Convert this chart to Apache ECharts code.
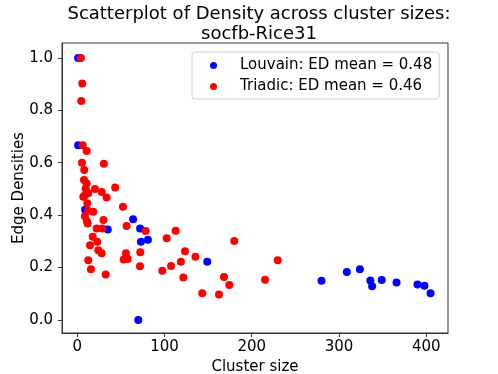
<!DOCTYPE html>
<html>
<head>
<meta charset="utf-8">
<script src="https://cdn.jsdelivr.net/npm/echarts@6/dist/echarts.min.js"></script>
<style>
  html, body { margin: 0; padding: 0; background: #fff; }
  #chart { width: 498px; height: 374px; }
</style>
</head>
<body>
<div id="chart"></div>
<script>
// cluster size / edge density pairs
const louvainSize = [1, 1, 9, 35, 64, 72, 73, 81, 149, 70, 280, 309, 324, 336, 338, 349, 366, 390, 398, 405];
const louvainDensity = [1.0, 0.667, 0.42, 0.345, 0.384, 0.349, 0.298, 0.306, 0.222, 0.0, 0.149, 0.183, 0.193, 0.150, 0.128, 0.152, 0.143, 0.135, 0.130, 0.102];

const triadicSize = [4.2, 5.7, 4.6, 6.2, 10.8, 5.4, 30.5, 8, 7.7, 10.8, 9.6, 20.3, 28, 43.5, 33.6, 8.8, 12.6, 6.9,
  11.5, 52.4, 18.3, 12.6, 8.8, 30, 11.9, 11, 22.2, 28.7, 56.6, 17.7, 22.9, 14.6, 24.1, 28, 55.8, 53.2, 57.8,
  12.6, 15.7, 32.6, 72.3, 71.9, 78.4, 102.5, 112.8, 180, 123.5, 135.5, 118.8, 107.5, 97.5, 121.6, 168.2,
  174.3, 143.3, 162.5, 215.3, 229.8];
const triadicDensity = [1.0, 0.902, 0.836, 0.667, 0.645, 0.6, 0.596, 0.572, 0.534, 0.521, 0.502, 0.50, 0.488, 0.505, 0.467, 0.476, 0.483, 0.470,
  0.445, 0.432, 0.413, 0.417, 0.396, 0.381, 0.368, 0.378, 0.349, 0.349, 0.358, 0.317, 0.298, 0.285, 0.266, 0.254, 0.254, 0.231, 0.232,
  0.228, 0.193, 0.173, 0.258, 0.205, 0.339, 0.312, 0.340, 0.301, 0.262, 0.241, 0.222, 0.206, 0.188, 0.162, 0.164,
  0.133, 0.102, 0.097, 0.153, 0.228];

const xTicks = [0, 100, 200, 300, 400];
const yTicks = [0, 0.2, 0.4, 0.6, 0.8, 1.0];
const seriesNames = ['Louvain: ED mean = 0.48', 'Triadic: ED mean = 0.46'];

const font = 'DejaVu Sans';
const chart = echarts.init(document.getElementById('chart'), null, { renderer: 'canvas' });

function pairs(xs, ys) {
  return xs.map((x, i) => [x, ys[i]]);
}

const option = {
  animation: false,
  title: {
    text: 'Scatterplot of Density across cluster sizes:\nsocfb-Rice31',
    left: 254,
    top: -1,
    textAlign: 'center',
    textStyle: { fontFamily: font, fontSize: 18, fontWeight: 'normal', color: '#000', lineHeight: 20 }
  },
  grid: {
    left: 62, right: 50, top: 43, bottom: 41,
    outerBoundsMode: 'none',
    show: true, borderColor: '#333', borderWidth: 1, backgroundColor: '#fff'
  },
  legend: {
    orient: 'vertical',
    left: 192, top: 52,
    padding: [6, 7, 5, 18],
    itemGap: 6,
    itemWidth: 7, itemHeight: 7,
    icon: 'circle',
    borderColor: '#d0d0d0', borderWidth: 1, borderRadius: 3,
    textStyle: { fontFamily: font, fontSize: 15, color: '#000', lineHeight: 15, padding: [0, 0, 0, 18] },
    data: seriesNames
  },
  xAxis: {
    type: 'value',
    min: -17.5, max: 425,
    name: 'Cluster size',
    nameLocation: 'middle',
    nameGap: 25,
    nameTextStyle: { fontFamily: font, fontSize: 15, color: '#000' },
    splitLine: { show: false },
    axisLine: { show: true, onZero: false, lineStyle: { color: '#333' } },
    axisTick: { show: true, inside: false, length: 4, lineStyle: { color: '#333' }, customValues: xTicks },
    axisLabel: { fontFamily: font, fontSize: 15, color: '#000', margin: 7, customValues: xTicks }
  },
  yAxis: {
    type: 'value',
    min: -0.05, max: 1.057,
    name: 'Edge Densities',
    nameLocation: 'middle',
    nameGap: 35,
    nameMoveOverlap: false,
    nameTextStyle: { fontFamily: font, fontSize: 15, color: '#000' },
    splitLine: { show: false },
    axisLine: { show: true, onZero: false, lineStyle: { color: '#333' } },
    axisTick: { show: true, inside: false, length: 4, lineStyle: { color: '#333' }, customValues: yTicks },
    axisLabel: {
      fontFamily: font, fontSize: 15, color: '#000', margin: 9, customValues: yTicks,
      formatter: v => v.toFixed(1)
    }
  },
  series: [
    {
      name: seriesNames[0],
      type: 'scatter',
      symbolSize: 8,
      itemStyle: { color: '#0000ff', opacity: 1 },
      data: pairs(louvainSize, louvainDensity)
    },
    {
      name: seriesNames[1],
      type: 'scatter',
      symbolSize: 8,
      itemStyle: { color: '#ff0000', opacity: 1 },
      data: pairs(triadicSize, triadicDensity)
    }
  ]
};

chart.setOption(option);
</script>
</body>
</html>
